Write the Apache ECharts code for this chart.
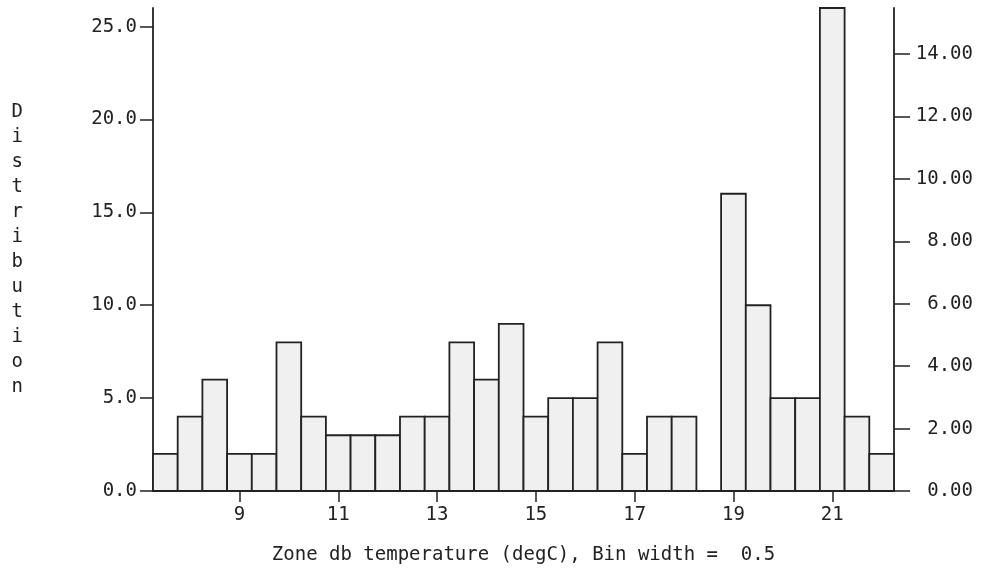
<!DOCTYPE html>
<html>
<head>
<meta charset="utf-8">
<script src="https://cdn.jsdelivr.net/npm/echarts@6/dist/echarts.min.js"></script>
<style>
html,body{margin:0;padding:0;background:#fff;}
#chart{width:981px;height:571px;}
</style>
</head>
<body>
<div id="chart"></div>
<script>
// Data
const binCenters = [7.5, 8.0, 8.5, 9.0, 9.5, 10.0, 10.5, 11.0, 11.5, 12.0, 12.5, 13.0, 13.5, 14.0, 14.5,
                    15.0, 15.5, 16.0, 16.5, 17.0, 17.5, 18.0, 18.5, 19.0, 19.5, 20.0, 20.5, 21.0, 21.5, 22.0];
const counts = [2, 4, 6, 2, 2, 8, 4, 3, 3, 3, 4, 4, 8, 6, 9,
                4, 5, 5, 8, 2, 4, 4, 0, 16, 10, 5, 5, 26, 4, 2];
const binWidth = 0.5;
const xTicks = [9, 11, 13, 15, 17, 19, 21];
const leftTicks = [0, 5, 10, 15, 20, 25];
const rightTicks = [0, 2, 4, 6, 8, 10, 12, 14];
const xTitle = 'Zone db temperature (degC), Bin width =  0.5';
const yTitle = 'Distribution';

const total = counts.reduce((a, b) => a + b, 0);
const maxCount = Math.max(...counts);
const font = 'DejaVu Sans Mono';
const textColor = '#222';
const lineColor = '#222';

const chart = echarts.init(document.getElementById('chart'), null, {renderer: 'canvas'});
chart.setOption({
  animation: false,
  backgroundColor: '#fff',
  grid: {left: 153, right: 87, top: 8, bottom: 80, containLabel: false},
  xAxis: {
    type: 'value',
    min: binCenters[0] - binWidth / 2,
    max: binCenters[binCenters.length - 1] + binWidth / 2,
    axisLine: {show: true, lineStyle: {color: lineColor, width: 1.8}},
    axisTick: {show: true, length: 11, lineStyle: {color: lineColor, width: 1.5}, customValues: xTicks},
    axisLabel: {customValues: xTicks, margin: 15, fontFamily: font, fontSize: 19, color: textColor,
                formatter: v => String(v)},
    splitLine: {show: false},
    name: xTitle,
    nameLocation: 'middle',
    nameGap: 55,
    nameTextStyle: {fontFamily: font, fontSize: 19, color: textColor}
  },
  yAxis: [
    {
      type: 'value',
      position: 'left',
      min: 0,
      max: maxCount,
      axisLine: {show: true, lineStyle: {color: lineColor, width: 1.8}},
      axisTick: {show: true, length: 13, lineStyle: {color: lineColor, width: 1.5}, customValues: leftTicks},
      axisLabel: {customValues: leftTicks, margin: 16, fontFamily: font, fontSize: 19, color: textColor,
                  formatter: v => v.toFixed(1)},
      splitLine: {show: false},
      name: yTitle.split('').join('\n'),
      nameLocation: 'middle',
      nameRotate: 0,
      nameGap: 130,
      nameTextStyle: {fontFamily: font, fontSize: 19, color: textColor, lineHeight: 25, padding: [0, 0, 12, 0]}
    },
    {
      type: 'value',
      position: 'right',
      min: 0,
      max: maxCount * 100 / total,
      axisLine: {show: true, lineStyle: {color: lineColor, width: 1.8}},
      axisTick: {show: true, length: 16, lineStyle: {color: lineColor, width: 1.5}, customValues: rightTicks},
      axisLabel: {customValues: rightTicks, margin: 79, align: 'right', fontFamily: font, fontSize: 19, color: textColor,
                  formatter: v => v.toFixed(2)},
      splitLine: {show: false}
    }
  ],
  series: [{
    type: 'custom',
    xAxisIndex: 0,
    yAxisIndex: 0,
    data: binCenters.map((c, i) => [c, counts[i]]),
    renderItem: function (params, api) {
      const x = api.value(0), y = api.value(1);
      if (!y) return null;
      const p0 = api.coord([x - binWidth / 2, y]);
      const p1 = api.coord([x + binWidth / 2, 0]);
      return {
        type: 'rect',
        shape: {x: p0[0], y: p0[1], width: p1[0] - p0[0], height: p1[1] - p0[1]},
        style: {fill: '#f0f0f0', stroke: lineColor, lineWidth: 1.8}
      };
    }
  }]
});
</script>
</body>
</html>
